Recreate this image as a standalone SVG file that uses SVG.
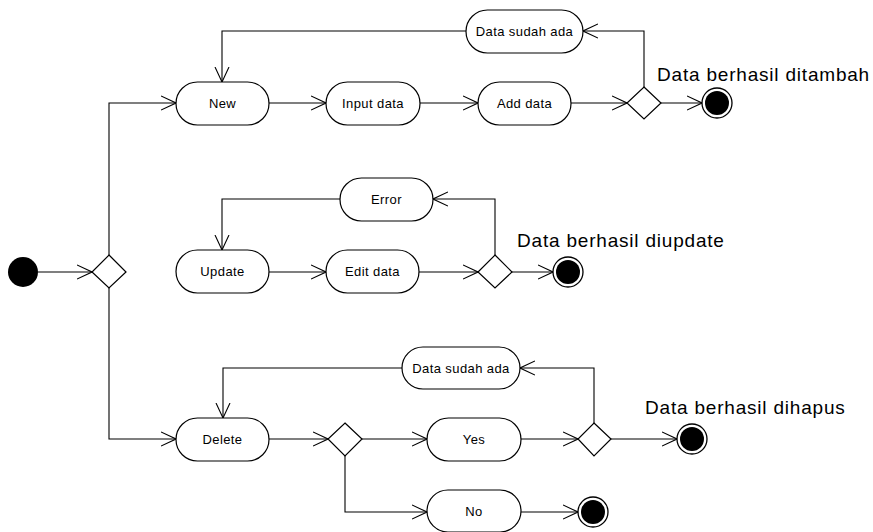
<svg xmlns="http://www.w3.org/2000/svg" width="873" height="532" viewBox="0 0 873 532">
<style>
.act{fill:#fff;stroke:#000;stroke-width:1.2}
.dec{fill:#fff;stroke:#000;stroke-width:1.2}
.lbl{font-family:"Liberation Sans",Arial,sans-serif;font-size:13px;letter-spacing:0.4px;text-anchor:middle;fill:#000}
.big{font-family:"Liberation Sans",Arial,sans-serif;font-size:19px;letter-spacing:0.8px;fill:#000}
.edge{fill:none;stroke:#000;stroke-width:1.1;marker-end:url(#arr)}
.fin-o{fill:#fff;stroke:#000;stroke-width:1.3}
</style>
<defs>
<marker id="arr" markerUnits="userSpaceOnUse" viewBox="0 0 16 16" refX="15" refY="8" markerWidth="16" markerHeight="16" orient="auto">
<path d="M0,1 L15,8 L0,15" fill="none" stroke="#000" stroke-width="1.1"/>
</marker>
</defs>
<rect width="873" height="532" fill="#fff"/>
<g id="connectors">
<path class="edge" d="M38,272 H92"/>
<path class="edge" d="M109,255 V103 H176"/>
<path class="edge" d="M109,288 V439 H176"/>
<path class="edge" d="M269,103 H326"/>
<path class="edge" d="M420,103 H478"/>
<path class="edge" d="M571,103 H627"/>
<path class="edge" d="M661,103 H702"/>
<path class="edge" d="M644,87 V31 H583"/>
<path class="edge" d="M466,31 H222 V82"/>
<path class="edge" d="M269,272 H326"/>
<path class="edge" d="M419,272 H478"/>
<path class="edge" d="M512,272 H553"/>
<path class="edge" d="M495,255 V199 H433"/>
<path class="edge" d="M340,199 H222 V250"/>
<path class="edge" d="M269,439 H328"/>
<path class="edge" d="M362,439 H427"/>
<path class="edge" d="M521,439 H578"/>
<path class="edge" d="M611,439 H677"/>
<path class="edge" d="M594,423 V368 H520"/>
<path class="edge" d="M402,368 H223 V418"/>
<path class="edge" d="M345,456 V512 H427"/>
<path class="edge" d="M521,512 H578"/>
</g>
<g id="start"><circle cx="23" cy="272" r="15" fill="#000"/></g>
<g id="dec-start"><polygon class="dec" points="109,255 126,272 109,288 92,272"/></g>
<g id="new"><rect class="act" x="176" y="82" width="93" height="43" rx="21.5"/><text class="lbl" x="222.5" y="108">New</text></g>
<g id="input-data"><rect class="act" x="326" y="82" width="94" height="43" rx="21.5"/><text class="lbl" x="373" y="108">Input data</text></g>
<g id="add-data"><rect class="act" x="478" y="82" width="93" height="43" rx="21.5"/><text class="lbl" x="524.5" y="108">Add data</text></g>
<g id="dec-add"><polygon class="dec" points="644,87 661,103 644,119 627,103"/></g>
<g id="sudah-ada-1"><rect class="act" x="466" y="10" width="117" height="43" rx="21.5"/><text class="lbl" x="524.5" y="36">Data sudah ada</text></g>
<g id="final-add"><circle class="fin-o" cx="717" cy="103" r="15"/><circle cx="717" cy="103" r="12" fill="#000"/></g>
<g id="label-add"><text class="big" x="657" y="81">Data berhasil ditambah</text></g>
<g id="update"><rect class="act" x="176" y="250" width="93" height="43" rx="21.5"/><text class="lbl" x="222.5" y="276">Update</text></g>
<g id="edit-data"><rect class="act" x="326" y="250" width="93" height="43" rx="21.5"/><text class="lbl" x="372.5" y="276">Edit data</text></g>
<g id="error"><rect class="act" x="340" y="178" width="93" height="43" rx="21.5"/><text class="lbl" x="386.5" y="204">Error</text></g>
<g id="dec-update"><polygon class="dec" points="495,255 512,272 495,288 478,272"/></g>
<g id="final-update"><circle class="fin-o" cx="568" cy="272" r="15"/><circle cx="568" cy="272" r="12" fill="#000"/></g>
<g id="label-update"><text class="big" x="517" y="247">Data berhasil diupdate</text></g>
<g id="delete"><rect class="act" x="176" y="418" width="93" height="43" rx="21.5"/><text class="lbl" x="222.5" y="444">Delete</text></g>
<g id="dec-delete"><polygon class="dec" points="345,423 362,439 345,456 328,439"/></g>
<g id="yes"><rect class="act" x="427" y="418" width="94" height="43" rx="21.5"/><text class="lbl" x="474" y="444">Yes</text></g>
<g id="no"><rect class="act" x="427" y="490" width="94" height="42" rx="21"/><text class="lbl" x="474" y="516">No</text></g>
<g id="dec-yes"><polygon class="dec" points="594,423 611,439 594,456 578,439"/></g>
<g id="sudah-ada-2"><rect class="act" x="402" y="347" width="118" height="42" rx="21"/><text class="lbl" x="461" y="373">Data sudah ada</text></g>
<g id="final-delete"><circle class="fin-o" cx="692" cy="439" r="15"/><circle cx="692" cy="439" r="12" fill="#000"/></g>
<g id="final-no"><circle class="fin-o" cx="593" cy="512" r="15"/><circle cx="593" cy="512" r="12" fill="#000"/></g>
<g id="label-delete"><text class="big" x="645" y="414">Data berhasil dihapus</text></g>
</svg>
